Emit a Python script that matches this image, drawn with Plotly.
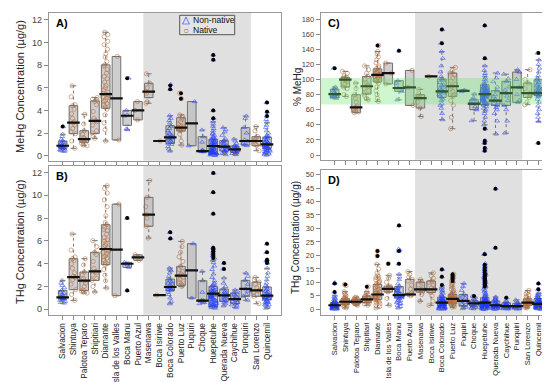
import plotly.graph_objects as go

W, H = 550, 382

sites = ["Salvacion", "Shintuya", "Palotoa Teparo", "Shipitiari", "Diamante",
         "Isla de los Valles", "Boca Manu", "Puerto Azul", "Masenawa", "Boca Isiriwe",
         "Boca Colorado", "Puerto Luz", "Puquiri", "Choque", "Huepetuhe",
         "Querada Nueva", "Caychihue", "Punquiri", "San Lorenzo", "Quincemil"]
# N = native, X = non-native
group = ["X", "N", "N", "N", "N", "N", "X", "N", "N", "N",
         "X", "N", "X", "X", "X", "X", "X", "X", "N", "X"]

# ---------------- Panel A: MeHg concentration (ug/g)
A_q1 = [0.65, 1.95, 1.18, 1.95, 4.19, 1.39, 2.68, 3.16, 5.13, 1.3, 1.09, 2.18, 0.88, 0.35, 0.15, 0.41, 0.30, 0.94, 0.88, 0.65]
A_med = [0.88, 2.92, 1.47, 3.07, 5.43, 5.07, 3.53, 4.01, 5.66, 1.3, 1.62, 2.48, 2.86, 0.41, 0.86, 0.80, 0.56, 1.30, 1.30, 1.00]
A_q3 = [1.30, 4.42, 2.21, 4.84, 8.02, 8.76, 4.00, 4.78, 6.40, 1.3, 2.65, 3.36, 4.78, 1.68, 1.47, 1.33, 0.86, 2.48, 1.68, 1.65]
A_lo = [0.35, 0.65, 0.88, 1.53, 1.30, 1.39, 2.30, 3.16, 4.63, 1.3, 0.41, 0.94, 0.88, 0.35, 0.03, 0.10, 0.10, 0.90, 0.44, 0.05]
A_hi = [1.90, 6.17, 3.66, 5.13, 10.9, 8.76, 4.00, 4.78, 7.23, 1.3, 3.54, 3.60, 4.78, 2.27, 3.00, 2.48, 1.47, 3.51, 2.57, 2.95]
A_out = [[2.57], [], [], [], [], [], [6.85], [], [], [], [5.87, 6.19], [5.04, 5.52], [], [],
         [3.3, 4.0, 8.47, 8.9], [], [], [], [], [3.51, 3.89, 4.69]]
A_pts = [
    [0.38, 0.45, 0.5, 0.55, 0.6, 0.62, 0.68, 0.72, 0.78, 0.82, 0.86, 0.9, 0.95, 1.02, 1.1, 1.2, 1.3, 1.45, 1.7, 1.9, 2.57],
    [0.65, 1.3, 1.95, 2.1, 2.4, 2.7, 2.9, 3.0, 3.3, 3.7, 4.1, 4.4, 4.5, 5.2, 6.17],
    [0.88, 0.95, 1.1, 1.2, 1.3, 1.4, 1.5, 1.6, 1.9, 2.2, 2.8, 3.66],
    [1.53, 1.7, 2.0, 2.2, 2.7, 3.0, 3.1, 3.3, 3.9, 4.5, 4.8, 4.9, 5.0, 5.13],
    [1.3, 2.3, 2.9, 3.6, 4.1, 4.3, 4.5, 4.6, 4.8, 4.9, 5.1, 5.2, 5.3, 5.4, 5.5, 5.6, 5.8, 6.0, 6.2, 6.5, 6.8, 7.0,
     7.3, 7.6, 7.9, 8.0, 8.3, 8.7, 9.0, 9.4, 9.8, 10.1, 10.5, 10.7, 10.9],
    [1.39, 8.76],
    [2.3, 2.35, 3.5, 3.6, 4.0, 6.85],
    [3.16, 4.0, 4.78],
    [4.63, 4.75, 5.5, 5.66, 6.0, 6.4, 7.23],
    [1.3],
    [0.41, 0.6, 0.8, 1.0, 1.1, 1.2, 1.3, 1.4, 1.5, 1.55, 1.6, 1.65, 1.7, 1.8, 1.9, 2.0, 2.2, 2.4, 2.6, 2.9, 3.1, 3.3,
     3.54, 5.87, 6.3],
    [0.94, 1.3, 1.9, 2.2, 2.3, 2.35, 2.4, 2.45, 2.5, 2.55, 2.6, 2.8, 3.0, 3.2, 3.36, 3.5, 3.6, 5.04, 5.52],
    [0.88, 4.78],
    [0.35, 0.37, 0.4, 0.42, 0.45, 0.5, 1.2, 1.68, 2.27],
    [0.03, 0.05, 0.08, 0.1, 0.12, 0.15, 0.15, 0.18, 0.2, 0.22, 0.25, 0.28, 0.3, 0.32, 0.35, 0.4, 0.45, 0.5, 0.55, 0.6,
     0.65, 0.7, 0.75, 0.8, 0.85, 0.9, 0.95, 1.0, 1.05, 1.1, 1.15, 1.2, 1.3, 1.35, 1.4, 1.45, 1.5, 1.6, 1.7, 1.8, 1.9,
     2.0, 2.2, 2.4, 2.6, 2.8, 3.0, 3.3, 4.0, 8.47, 8.9, 0.1, 0.2, 0.3, 0.4, 0.6, 0.8, 1.0, 1.2, 0.5],
    [0.1, 0.2, 0.3, 0.35, 0.4, 0.45, 0.5, 0.6, 0.7, 0.75, 0.8, 0.85, 0.9, 1.0, 1.1, 1.2, 1.3, 1.33, 1.5, 1.8, 2.1, 2.3, 2.48],
    [0.1, 0.15, 0.2, 0.25, 0.3, 0.35, 0.4, 0.45, 0.5, 0.55, 0.6, 0.65, 0.7, 0.8, 0.85, 0.9, 1.1, 1.3, 1.47],
    [0.9, 0.95, 1.1, 1.3, 1.4, 2.0, 2.5, 3.3, 3.51],
    [0.44, 0.9, 1.0, 1.15, 1.3, 1.4, 1.6, 1.7, 2.2, 2.57],
    [0.05, 0.1, 0.15, 0.2, 0.25, 0.3, 0.35, 0.4, 0.45, 0.5, 0.55, 0.6, 0.65, 0.7, 0.75, 0.8, 0.85, 0.9, 0.95, 1.0, 1.0,
     1.05, 1.1, 1.15, 1.2, 1.3, 1.4, 1.5, 1.6, 1.65, 1.7, 1.8, 2.0, 2.2, 2.5, 2.7, 2.95, 3.2, 3.51, 3.89, 4.69,
     0.3, 0.6, 0.9, 1.2],
]

# ---------------- Panel B: THg concentration (ug/g)
B_q1 = [0.90, 1.73, 1.66, 2.54, 3.92, 1.20, 3.68, 4.30, 7.28, 1.25, 1.66, 2.10, 0.99, 0.70, 0.26, 0.70, 0.49, 1.14, 1.14, 0.85]
B_med = [1.05, 2.83, 2.51, 3.33, 5.29, 5.23, 4.00, 4.55, 8.30, 1.25, 1.96, 2.95, 3.42, 0.76, 1.37, 1.23, 0.90, 1.80, 1.66, 1.20]
B_q3 = [1.66, 4.44, 3.27, 5.00, 7.42, 9.23, 4.12, 4.78, 9.82, 1.25, 2.65, 3.77, 5.76, 2.51, 2.02, 1.78, 1.43, 2.54, 2.39, 1.96]
B_lo = [0.55, 0.79, 1.43, 1.52, 1.87, 1.20, 3.68, 4.30, 6.25, 1.25, 0.49, 2.00, 0.99, 0.50, 0.10, 0.30, 0.15, 0.80, 0.49, 0.10]
B_hi = [2.54, 6.60, 4.44, 6.02, 10.84, 9.23, 4.12, 4.78, 11.30, 1.25, 3.62, 5.96, 5.76, 3.33, 4.30, 2.75, 1.70, 3.18, 2.80, 3.60]
B_out = [[], [], [], [], [], [], [1.66, 8.0], [], [], [], [6.22, 6.75], [], [], [],
         [4.5, 4.7, 4.9, 5.1, 5.3, 5.4, 8.39, 10.26, 11.95], [3.54, 4.06], [], [], [],
         [4.06, 4.25, 4.35, 5.0, 5.76]]
B_pts = [
    [0.55, 0.6, 0.7, 0.8, 0.85, 0.9, 0.95, 1.0, 1.05, 1.1, 1.2, 1.3, 1.4, 1.5, 1.66, 1.9, 2.1, 2.3, 2.54],
    [0.79, 1.3, 1.73, 2.2, 2.6, 2.8, 2.9, 3.2, 3.6, 4.0, 4.3, 4.44, 4.6, 5.2, 6.6],
    [1.43, 1.5, 1.6, 1.7, 2.0, 2.3, 2.5, 2.7, 3.0, 3.27, 3.9, 4.44],
    [1.52, 2.0, 2.54, 2.7, 3.0, 3.2, 3.33, 3.6, 4.2, 4.8, 5.0, 5.5, 6.02],
    [1.87, 2.5, 3.0, 3.5, 3.92, 4.1, 4.3, 4.5, 4.7, 4.9, 5.1, 5.2, 5.3, 5.4, 5.6, 5.8, 6.0, 6.3, 6.6, 6.9, 7.2, 7.42,
     7.6, 8.2, 9.0, 9.6, 10.2, 10.6, 10.84, 4.0, 4.6, 5.0, 5.5, 6.1, 7.0],
    [1.2, 9.23],
    [1.66, 3.68, 3.9, 4.0, 4.12, 8.0],
    [4.3, 4.55, 4.78],
    [6.25, 7.28, 8.0, 8.3, 9.0, 9.82, 11.3],
    [1.25],
    [0.49, 0.7, 1.0, 1.3, 1.5, 1.66, 1.7, 1.8, 1.85, 1.9, 1.96, 2.0, 2.1, 2.2, 2.3, 2.4, 2.5, 2.65, 2.9, 3.2, 3.4, 3.5,
     3.62, 6.22, 6.75],
    [2.0, 2.1, 2.2, 2.4, 2.6, 2.8, 2.95, 3.1, 3.3, 3.5, 3.77, 4.2, 4.6, 5.0, 5.5, 5.96],
    [0.99, 5.76],
    [0.5, 0.6, 0.7, 0.72, 0.76, 0.8, 1.5, 2.51, 3.33],
    [0.1, 0.15, 0.2, 0.25, 0.3, 0.35, 0.4, 0.5, 0.55, 0.6, 0.7, 0.8, 0.9, 1.0, 1.05, 1.1, 1.2, 1.25, 1.3, 1.35, 1.4,
     1.45, 1.5, 1.6, 1.7, 1.8, 1.9, 2.0, 2.1, 2.3, 2.5, 2.8, 3.1, 3.5, 3.8, 4.1, 4.3, 4.5, 4.7, 4.9, 5.1, 5.3, 5.4,
     8.39, 10.26, 11.95, 0.3, 0.5, 0.7, 0.9, 1.1, 1.3, 1.5, 1.7, 0.4, 0.8, 1.2, 1.6, 2.2],
    [0.3, 0.5, 0.6, 0.7, 0.8, 0.9, 1.0, 1.1, 1.2, 1.25, 1.3, 1.4, 1.5, 1.6, 1.78, 2.0, 2.3, 2.75, 3.54, 4.06],
    [0.15, 0.3, 0.4, 0.5, 0.6, 0.7, 0.8, 0.9, 1.0, 1.1, 1.2, 1.3, 1.43, 1.6, 1.7],
    [0.8, 1.14, 1.3, 1.6, 1.8, 2.2, 2.54, 2.9, 3.18],
    [0.49, 1.14, 1.3, 1.5, 1.66, 1.9, 2.2, 2.39, 2.6, 2.8],
    [0.1, 0.2, 0.3, 0.4, 0.5, 0.6, 0.7, 0.8, 0.85, 0.9, 1.0, 1.05, 1.1, 1.15, 1.2, 1.25, 1.3, 1.4, 1.5, 1.6, 1.7, 1.8,
     1.96, 2.1, 2.3, 2.6, 2.9, 3.2, 3.6, 4.06, 4.25, 4.35, 5.0, 5.76, 0.4, 0.7, 1.0, 1.3, 0.6, 1.1],
]

# ---------------- Panel C: % MeHg
C_q1 = [76.3, 90.0, 56.5, 80.7, 96.6, 94.0, 84.3, 65.7, 62.2, 104, 76.3, 77.6, 84.0, 60.0, 66.6, 65.7, 65.7, 69.7, 76.3, 79.0]
C_med = [80.7, 99.7, 63.0, 91.0, 106, 108.5, 88.7, 89.5, 75.4, 104, 84.3, 91.0, 85.0, 68.0, 80.7, 71.9, 82.0, 89.5, 82.0, 82.0]
C_q3 = [87.3, 102.8, 79.8, 104, 114, 121.7, 98.4, 112, 79.8, 104, 100.6, 108.5, 86.0, 73.2, 93.0, 85.2, 97.5, 109.8, 95.3, 99.7]
C_lo = [75, 77.6, 56, 73, 71, 94, 73, 65.7, 51, 104, 46.8, 34.8, 84, 45.4, 40, 27.8, 29, 69.7, 66.6, 44.5]
C_hi = [90, 110.7, 95.3, 118, 137, 121.7, 98.4, 112, 87, 104, 137, 116, 86, 80.7, 118, 108.5, 107, 112.9, 112.9, 126]
C_out = [[115], [], [], [], [145], [], [138], [], [], [], [148, 166], [], [], [],
         [5.7, 9.3, 15.9, 19, 34.8, 128, 171.6], [], [], [], [], [15.9, 135]]
C_pts = [
    [75, 76, 77, 78, 79, 80, 80.7, 81, 83, 85, 87, 88, 90, 115],
    [77.6, 80, 88, 90, 94, 97, 99, 100, 101, 102, 103, 105, 108, 110.7],
    [56, 57, 58, 60, 62, 63, 65, 70, 75, 79.8, 88, 95.3],
    [73, 75, 78, 80.7, 85, 88, 91, 93, 96, 100, 104, 108, 113, 118],
    [71, 75, 80, 85, 90, 95, 97, 99, 100, 102, 104, 105, 106, 107, 108, 109, 110, 112, 114, 116, 118, 122, 126, 130,
     134, 137, 145, 100, 103, 106, 110],
    [94, 108.5, 121.7],
    [73, 84.3, 88.7, 95, 98.4, 138],
    [65.7, 89.5, 112],
    [51, 62.2, 70, 75.4, 79.8, 87],
    [104],
    [46.8, 55, 62, 68, 72, 76.3, 78, 80, 82, 84, 84.3, 86, 88, 90, 93, 96, 99, 100.6, 104, 110, 118, 128, 137, 148, 166,
     66, 74, 83, 92],
    [34.8, 50, 66, 72, 77.6, 80, 84, 88, 91, 94, 98, 102, 106, 108.5, 112, 116],
    [84, 85, 86],
    [45.4, 60, 64, 68, 70, 73.2, 76, 80.7],
    [40, 45, 50, 55, 58, 60, 62, 64, 66, 67, 68, 69, 70, 71, 72, 73, 74, 75, 76, 77, 78, 79, 80, 80.7, 81, 82, 83, 84,
     85, 86, 87, 88, 89, 90, 91, 92, 93, 94, 96, 98, 100, 102, 105, 108, 112, 118, 128, 5.7, 9.3, 15.9, 19, 34.8,
     171.6, 75, 78, 80, 82, 84, 86, 88, 77, 79, 81, 83, 85, 70, 73, 90],
    [27.8, 45, 55, 60, 63, 65.7, 68, 70, 71.9, 74, 77, 80, 85.2, 90, 97, 102, 108.5],
    [29, 45, 60, 65.7, 72, 78, 82, 86, 90, 97.5, 101, 107],
    [69.7, 72, 80, 89.5, 100, 109.8, 112.9],
    [66.6, 70, 76.3, 80, 82, 88, 95.3, 100, 112.9],
    [44.5, 50, 55, 60, 65, 70, 74, 77, 79, 80, 81, 82, 83, 84, 85, 86, 88, 90, 92, 94, 96, 98, 99.7, 102, 105, 110, 115,
     120, 126, 135, 15.9, 78, 82, 86, 90, 80, 84],
]
C_band = [67, 102]

# ---------------- Panel D: THg concentration (ug/g), larger data set
D_q1 = [0.5, 1.85, 2.1, 2.5, 3.7, 6.4, 4.3, 5.5, 6.4, 6.2, 1.2, 2.2, 1.2, 1.2, 1.0, 0.6, 0.6, 0.6, 1.5, 1.0]
D_med = [1.5, 2.8, 2.8, 3.7, 5.5, 7.6, 5.3, 5.5, 7.4, 7.4, 2.5, 3.9, 3.1, 2.2, 2.5, 1.5, 1.2, 1.2, 2.5, 2.0]
D_q3 = [2.5, 3.94, 3.7, 4.9, 9.2, 8.6, 8.5, 11.1, 10.1, 10.5, 4.5, 5.5, 5.5, 3.1, 4.3, 3.1, 2.4, 2.2, 3.9, 4.0]
D_lo = [0.05, 0.5, 1.5, 1.5, 0.5, 1.5, 0.5, 5.0, 3.0, 1.5, 0.05, 0.8, 0.3, 0.2, 0.05, 0.05, 0.1, 0.1, 0.5, 0.05]
D_hi = [5.2, 6.5, 4.5, 6.5, 16.7, 12.6, 13.0, 14.0, 11.0, 13.5, 8.0, 10.0, 9.6, 4.5, 8.0, 4.6, 3.0, 3.5, 7.0, 6.0]
D_out = [[6.4, 9.6], [9.2], [], [8.4], [19.8, 21.6], [16.9], [16.9, 21.6, 31.1], [], [], [],
         [9.0, 12.1, 14.8], [10.5, 11.2, 11.8, 12.4, 13.0], [], [4.9],
         [8.5, 9.0, 9.5, 10.0, 10.5, 11.0, 11.5, 12.0, 12.5, 13.0, 13.5, 14.5, 15.5, 16.5, 20.4],
         [22.8, 44.7], [4.3], [], [], [7.4, 9.6]]
D_pts = [
    [0.1, 0.2, 0.3, 0.3, 0.4, 0.5, 0.5, 0.6, 0.7, 0.8, 0.9, 1.0, 1.0, 1.1, 1.2, 1.3, 1.4, 1.5, 1.5, 1.6, 1.7, 1.8, 1.9,
     2.0, 2.1, 2.2, 2.3, 2.4, 2.5, 2.6, 2.8, 3.0, 3.2, 3.5, 3.8, 4.2, 4.6, 5.0, 6.4, 9.6, 9.9, 0.2, 0.4, 0.6, 0.8,
     1.0, 1.2, 1.4, 1.6, 1.8, 2.0, 2.2, 0.3, 0.7, 1.1, 0.9, 1.3, 0.5, 0.15, 0.25],
    [0.5, 0.8, 1.2, 1.5, 1.8, 2.0, 2.2, 2.4, 2.5, 2.6, 2.7, 2.8, 2.9, 3.0, 3.1, 3.2, 3.4, 3.6, 3.8, 4.0, 4.3, 4.6, 5.0,
     5.5, 6.0, 6.5, 8.8, 9.2, 2.3, 2.8, 3.3, 1.9],
    [1.5, 1.8, 2.0, 2.2, 2.4, 2.6, 2.7, 2.8, 2.9, 3.0, 3.2, 3.4, 3.6, 3.8, 4.0, 4.3, 4.5, 2.5, 3.1],
    [1.5, 2.0, 2.3, 2.6, 2.9, 3.2, 3.5, 3.7, 3.9, 4.2, 4.5, 4.8, 5.1, 5.5, 6.0, 6.5, 8.4, 3.0, 3.4, 4.0],
    [0.5, 1.0, 1.5, 2.0, 2.5, 3.0, 3.4, 3.7, 4.0, 4.3, 4.6, 4.9, 5.2, 5.5, 5.8, 6.1, 6.5, 7.0, 7.5, 8.0, 8.5, 9.0,
     9.5, 10.0, 10.5, 11.0, 11.5, 12.0, 12.5, 13.5, 15.0, 16.7, 19.8, 21.6, 4.5, 5.0, 5.5, 6.0, 3.5, 2.8, 7.2, 8.8,
     9.8, 11.8],
    [1.5, 4.0, 6.4, 6.8, 7.2, 7.6, 8.0, 8.3, 8.6, 10.0, 11.5, 12.6, 16.9],
    [0.5, 1.0, 1.5, 2.0, 2.5, 3.0, 3.5, 4.0, 4.3, 4.6, 4.9, 5.1, 5.3, 5.5, 5.8, 6.1, 6.5, 7.0, 7.5, 8.0, 8.5, 9.5,
     11.0, 12.0, 13.0, 16.9, 21.6, 22.0, 22.3, 31.1, 3.2, 4.4, 5.6, 6.8, 2.2, 7.8],
    [5.0, 5.5, 5.5, 6.0, 7.5, 9.0, 10.5, 11.1, 12.0, 13.0, 14.0],
    [3.0, 5.5, 6.4, 7.0, 7.4, 8.0, 9.0, 10.1, 11.0],
    [1.5, 3.0, 5.0, 6.2, 6.8, 7.4, 8.0, 9.0, 10.0, 10.5, 11.5, 12.5, 13.5],
    [0.05, 0.1, 0.2, 0.3, 0.4, 0.5, 0.6, 0.7, 0.8, 0.9, 1.0, 1.1, 1.2, 1.3, 1.4, 1.5, 1.6, 1.7, 1.8, 1.9, 2.0, 2.1,
     2.2, 2.3, 2.4, 2.5, 2.6, 2.7, 2.8, 2.9, 3.0, 3.2, 3.4, 3.6, 3.8, 4.0, 4.2, 4.5, 4.8, 5.1, 5.5, 6.0, 6.5, 7.0,
     7.5, 8.0, 9.0, 12.1, 14.8, 0.3, 0.6, 0.9, 1.2, 1.5, 1.8, 2.1, 2.4, 2.7, 3.1, 3.5, 0.4, 0.8, 1.6, 2.0, 2.6],
    [0.8, 1.0, 1.3, 1.6, 1.9, 2.2, 2.4, 2.6, 2.8, 3.0, 3.2, 3.4, 3.6, 3.8, 3.9, 4.0, 4.2, 4.4, 4.6, 4.8, 5.0, 5.2,
     5.5, 5.8, 6.1, 6.5, 7.0, 7.5, 8.0, 8.5, 9.0, 9.5, 10.0, 10.5, 11.2, 11.8, 12.4, 13.0, 2.5, 3.1, 3.5, 4.1, 4.5,
     2.9, 3.3, 3.7, 1.5, 2.0, 5.3, 6.0],
    [0.3, 0.8, 1.2, 1.8, 2.5, 3.1, 3.6, 4.2, 5.0, 5.5, 7.0, 8.5, 9.6],
    [0.2, 0.4, 0.6, 0.8, 1.0, 1.2, 1.5, 1.8, 2.2, 2.5, 2.8, 3.1, 3.5, 4.0, 4.5, 4.9],
    [0.05, 0.1, 0.15, 0.2, 0.3, 0.4, 0.5, 0.6, 0.7, 0.8, 0.9, 1.0, 1.1, 1.2, 1.3, 1.4, 1.5, 1.6, 1.7, 1.8, 1.9, 2.0,
     2.1, 2.2, 2.3, 2.4, 2.5, 2.6, 2.7, 2.8, 2.9, 3.0, 3.2, 3.4, 3.6, 3.8, 4.0, 4.2, 4.4, 4.6, 4.8, 5.0, 5.3, 5.6,
     6.0, 6.5, 7.0, 7.5, 8.0, 8.5, 9.0, 9.5, 10.0, 10.5, 11.0, 11.5, 12.0, 12.5, 13.0, 13.5, 14.0, 14.5, 15.0, 15.5,
     16.0, 16.5, 17.0, 20.4, 20.6, 0.2, 0.4, 0.6, 0.8, 1.0, 1.2, 1.4, 1.6, 1.8, 2.0, 2.2, 2.4, 0.3, 0.5, 0.7, 0.9,
     1.1, 1.3, 1.5, 1.7, 1.9, 2.6, 3.1, 3.5],
    [0.05, 0.1, 0.2, 0.3, 0.4, 0.5, 0.6, 0.7, 0.8, 0.9, 1.0, 1.1, 1.2, 1.3, 1.4, 1.5, 1.7, 1.9, 2.1, 2.3, 2.6, 2.9,
     3.1, 3.4, 3.7, 4.0, 4.3, 4.6, 22.8, 44.7, 0.3, 0.6, 0.9, 1.2, 1.6],
    [0.1, 0.2, 0.3, 0.4, 0.5, 0.6, 0.7, 0.8, 0.9, 1.0, 1.1, 1.2, 1.3, 1.5, 1.7, 1.9, 2.1, 2.4, 2.7, 3.0, 4.3, 0.4, 0.8],
    [0.1, 0.2, 0.3, 0.4, 0.5, 0.6, 0.7, 0.9, 1.0, 1.1, 1.2, 1.4, 1.6, 1.9, 2.2, 2.6, 3.0, 3.5],
    [0.5, 0.7, 0.9, 1.1, 1.3, 1.5, 1.7, 1.9, 2.1, 2.3, 2.5, 2.7, 2.9, 3.1, 3.4, 3.7, 3.9, 4.3, 4.8, 5.3, 5.8, 6.3,
     7.0, 1.6, 2.2, 2.8],
    [0.05, 0.1, 0.2, 0.3, 0.4, 0.5, 0.6, 0.7, 0.8, 0.9, 1.0, 1.1, 1.2, 1.3, 1.4, 1.5, 1.6, 1.7, 1.8, 1.9, 2.0, 2.1,
     2.2, 2.3, 2.5, 2.7, 2.9, 3.1, 3.3, 3.5, 3.7, 4.0, 4.3, 4.6, 5.0, 5.4, 5.8, 6.2, 7.4, 9.6, 0.3, 0.6, 0.9, 1.2,
     1.5, 1.8, 2.1, 2.4, 2.8, 3.2, 0.4, 0.8, 1.6, 2.6, 4.2, 5.2],
]

# ---------------- style / layout constants
XR = [-1.3, 20.3]
SHADE = [7.5, 17.5]
FONT = "Liberation Sans, Arial, sans-serif"
BOX_FILL = "rgba(190,190,190,0.75)"
BOX_LINE = "#707070"
BLUE = "rgba(30,60,255,0.5)"
BROWN = "rgba(180,110,60,0.55)"


def px_x(p):
    return p / W


def px_y(p):
    return 1 - p / H


panels = [
    dict(key="A", xa="x", ya="y", xd=[40.7, 273.0], yd=[5.0, 152.7], yr=[-0.44, 12.6], dt=2,
         q1=A_q1, med=A_med, q3=A_q3, lo=A_lo, hi=A_hi, out=A_out, pts=A_pts, labels=False, fs=9, xfs=8.5),
    dict(key="B", xa="x2", ya="y2", xd=[40.7, 273.0], yd=[158.0, 306.7], yr=[-0.47, 12.57], dt=2,
         q1=B_q1, med=B_med, q3=B_q3, lo=B_lo, hi=B_hi, out=B_out, pts=B_pts, labels=True, fs=9, xfs=8.3),
    dict(key="C", xa="x3", ya="y3", xd=[312.7, 544.3], yd=[5.0, 151.7], yr=[-6.2, 188], dt=20,
         q1=C_q1, med=C_med, q3=C_q3, lo=C_lo, hi=C_hi, out=C_out, pts=C_pts, labels=False, fs=7.5, xfs=7.5),
    dict(key="D", xa="x4", ya="y4", xd=[312.7, 544.3], yd=[161.7, 306.7], yr=[-2.0, 51.8], dt=5,
         q1=D_q1, med=D_med, q3=D_q3, lo=D_lo, hi=D_hi, out=D_out, pts=D_pts, labels=True, fs=7.5, xfs=7.5),
]

fig = go.Figure()
pos = list(range(len(sites)))

for P in panels:
    xa, ya = P["xa"], P["ya"]
    # boxes
    fig.add_trace(go.Box(x=pos, q1=P["q1"], median=P["med"], q3=P["q3"],
                         lowerfence=P["q1"], upperfence=P["q3"], width=0.8,
                         fillcolor=BOX_FILL, line=dict(color=BOX_LINE, width=1),
                         boxpoints=False, xaxis=xa, yaxis=ya, showlegend=False, hoverinfo="skip"))
    # dotted whiskers with small caps
    wx, wy, cx, cy = [], [], [], []
    for i in pos:
        if P["hi"][i] > P["q3"][i]:
            wx += [i, i, None]
            wy += [P["q3"][i], P["hi"][i], None]
            cx.append(i)
            cy.append(P["hi"][i])
        if P["lo"][i] < P["q1"][i]:
            wx += [i, i, None]
            wy += [P["lo"][i], P["q1"][i], None]
            cx.append(i)
            cy.append(P["lo"][i])
    fig.add_trace(go.Scatter(x=wx, y=wy, mode="lines", line=dict(color="#777", width=1, dash="dot"),
                             xaxis=xa, yaxis=ya, showlegend=False, hoverinfo="skip"))
    fig.add_trace(go.Scatter(x=cx, y=cy, mode="markers",
                             marker=dict(symbol="line-ew", size=4, line=dict(color="#777", width=1)),
                             xaxis=xa, yaxis=ya, showlegend=False, hoverinfo="skip"))
    # thick medians
    fig.add_trace(go.Scatter(x=pos, y=P["med"], mode="markers",
                             marker=dict(symbol="line-ew", size=9, line=dict(color="#111", width=2.2)),
                             xaxis=xa, yaxis=ya, showlegend=False, hoverinfo="skip"))
    # green reference band for % MeHg
    if P["key"] == "C":
        fig.add_trace(go.Scatter(x=[XR[0], XR[1], XR[1], XR[0], XR[0]],
                                 y=[C_band[0], C_band[0], C_band[1], C_band[1], C_band[0]],
                                 mode="lines", fill="toself", fillcolor="rgba(110,230,110,0.33)",
                                 line=dict(width=0), xaxis=xa, yaxis=ya, showlegend=False,
                                 hoverinfo="skip"))
    # jittered points
    for g, sym, col in [("N", "circle-open", BROWN), ("X", "triangle-up-open", BLUE)]:
        xs, ys = [], []
        for i in pos:
            if group[i] == g:
                xs += [i] * len(P["pts"][i])
                ys += P["pts"][i]
        fig.add_trace(go.Box(x=xs, y=ys, boxpoints="all", jitter=0.75, pointpos=0, width=0.8,
                             fillcolor="rgba(0,0,0,0)", line=dict(width=0, color="rgba(0,0,0,0)"),
                             marker=dict(symbol=sym, size=4.2, color=col, line=dict(width=1, color=col)),
                             xaxis=xa, yaxis=ya, showlegend=False, hoverinfo="skip"))
    # outliers
    ox, oy = [], []
    for i in pos:
        ox += [i] * len(P["out"][i])
        oy += P["out"][i]
    fig.add_trace(go.Scatter(x=ox, y=oy, mode="markers", marker=dict(color="#000", size=4),
                             xaxis=xa, yaxis=ya, showlegend=False, hoverinfo="skip"))

layout = dict(template="none", width=W, height=H, margin=dict(l=0, r=0, t=0, b=0, autoexpand=False),
              paper_bgcolor="white", plot_bgcolor="white", boxmode="overlay",
              font=dict(family=FONT, size=9, color="#333"), showlegend=False)
shapes, annotations = [], []
for P in panels:
    xn = "xaxis" + P["xa"][1:]
    yn = "yaxis" + P["ya"][1:]
    layout[xn] = dict(domain=[px_x(P["xd"][0]), px_x(P["xd"][1])], range=XR, anchor=P["ya"],
                      tickmode="array", tickvals=pos,
                      ticktext=sites if P["labels"] else [""] * len(sites),
                      showticklabels=P["labels"], automargin=False,
                      tickangle=-90, ticks="outside", ticklen=4, tickcolor="#888",
                      tickfont=dict(size=P["xfs"], color="#222"),
                      showline=True, mirror=True,
                      linecolor="#999", linewidth=1, showgrid=False, zeroline=False, fixedrange=True)
    layout[yn] = dict(domain=[px_y(P["yd"][1]), px_y(P["yd"][0])], range=P["yr"], anchor=P["xa"],
                      dtick=P["dt"], tick0=0, ticks="outside", ticklen=4, tickcolor="#888",
                      automargin=False, tickfont=dict(size=P["fs"], color="#444"),
                      showline=True, mirror=True,
                      linecolor="#999", linewidth=1, showgrid=False, zeroline=False)
    shapes.append(dict(type="rect", xref=P["xa"], yref=P["ya"] + " domain", x0=SHADE[0], x1=SHADE[1],
                       y0=0, y1=1, fillcolor="#e0e0e0", line=dict(width=0), layer="below"))
    annotations.append(dict(text="<b>%s)</b>" % P["key"], xref="paper", yref="paper",
                            x=px_x(P["xd"][0] + 5), y=px_y(P["yd"][0] + 10), xanchor="left",
                            yanchor="middle", showarrow=False, font=dict(size=11, color="#000")))

ytitles = [("MeHg Concentration (µg/g)", 12, 79, 11), ("THg Concentration (µg/g)", 12, 234, 11),
           ("% MeHg", 289, 79, 10), ("THg Concentration (µg/g)", 287, 230, 10)]
for t, x, y, s in ytitles:
    annotations.append(dict(text=t, xref="paper", yref="paper", x=px_x(x), y=px_y(y), textangle=-90,
                            showarrow=False, xanchor="center", yanchor="middle",
                            font=dict(size=s, color="#222")))

# legend box (panel A)
shapes.append(dict(type="rect", xref="paper", yref="paper", x0=px_x(171.7), x1=px_x(226.7),
                   y0=px_y(26.7), y1=px_y(7.3), fillcolor="#e4e4e4", line=dict(color="#555", width=1)))
annotations += [
    dict(text="△", xref="paper", yref="paper", x=px_x(177.8), y=px_y(11.6), showarrow=False,
         font=dict(size=10, color="#1030ff"), xanchor="center", yanchor="middle", borderpad=0),
    dict(text="Non-native", xref="paper", yref="paper", x=px_x(184), y=px_y(11.6), showarrow=False,
         font=dict(size=8.6, color="#111"), xanchor="left", yanchor="middle", borderpad=0),
    dict(text="○", xref="paper", yref="paper", x=px_x(177.8), y=px_y(22.4), showarrow=False,
         font=dict(size=10, color="#a06a2a"), xanchor="center", yanchor="middle", borderpad=0),
    dict(text="Native", xref="paper", yref="paper", x=px_x(184), y=px_y(22.4), showarrow=False,
         font=dict(size=8.6, color="#111"), xanchor="left", yanchor="middle", borderpad=0),
]
layout["shapes"] = shapes
layout["annotations"] = annotations
fig.update_layout(**layout)
fig.write_html("out.html")
